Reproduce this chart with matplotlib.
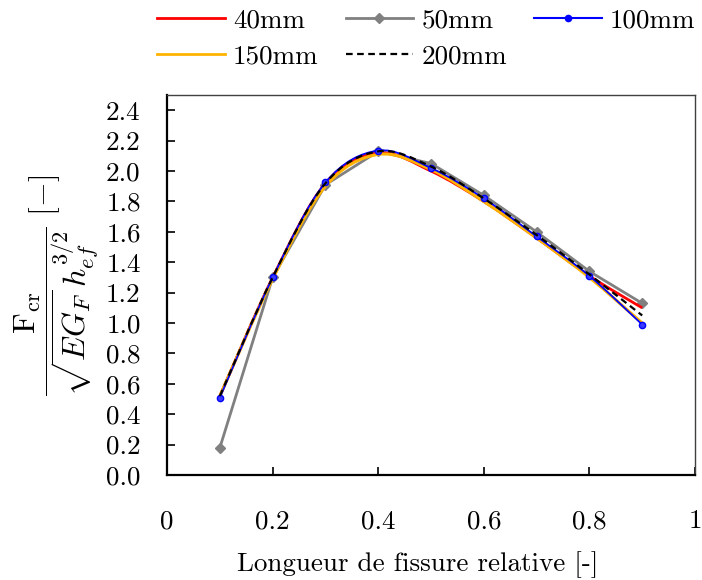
import matplotlib
matplotlib.use('Agg')
import matplotlib.pyplot as plt
import numpy as np
from matplotlib.path import Path
from matplotlib.patches import PathPatch
from matplotlib.lines import Line2D

plt.rcParams['font.family'] = 'serif'
plt.rcParams['font.serif'] = ['cmr10']
plt.rcParams['mathtext.fontset'] = 'cm'
plt.rcParams['axes.formatter.use_mathtext'] = True

crack_ratio = [0.1, 0.2, 0.3, 0.4, 0.5, 0.6, 0.7, 0.8, 0.9]
f_40mm = [0.52, 1.30, 1.92, 2.12, 2.00, 1.80, 1.56, 1.31, 1.10]
f_50mm = [0.18, 1.30, 1.91, 2.13, 2.05, 1.84, 1.60, 1.34, 1.13]
f_100mm = [0.51, 1.30, 1.925, 2.135, 2.02, 1.82, 1.57, 1.31, 0.99]
f_150mm = [0.52, 1.29, 1.90, 2.11, 2.01, 1.80, 1.56, 1.30, 1.00]
f_200mm = [0.52, 1.30, 1.92, 2.13, 2.03, 1.82, 1.58, 1.32, 1.05]

x_ticks = [0, 0.2, 0.4, 0.6, 0.8, 1]
x_ticklabels = ['0', '0.2', '0.4', '0.6', '0.8', '1']
y_ticks = np.arange(0, 2.41, 0.2)

FS = 19.5


def smooth_path(x, y):
    # spreadsheet-style smoothed line: cubic bezier segments through the points
    pts = np.column_stack([x, y])
    n = len(pts)
    verts = [pts[0]]
    codes = [Path.MOVETO]
    for i in range(n - 1):
        p0 = pts[max(i - 1, 0)]
        p1 = pts[i]
        p2 = pts[i + 1]
        p3 = pts[min(i + 2, n - 1)]
        c1 = p1 + (p2 - p0) / 6
        c2 = p2 - (p3 - p1) / 6
        verts += [c1, c2, p2]
        codes += [Path.CURVE4] * 3
    return Path(verts, codes)


def add_smooth(ax, x, y, **kw):
    patch = PathPatch(smooth_path(x, y), fill=False, transform=ax.transData, **kw)
    ax.add_patch(patch)


fig = plt.figure(figsize=(7.02, 5.8), dpi=100)
ax = fig.add_axes([0.238, 0.181, 0.752, 0.655])

ax.plot(crack_ratio, f_50mm, color='gray', lw=2, marker='D', markersize=5, zorder=2)
add_smooth(ax, crack_ratio, f_40mm, edgecolor='red', lw=2, zorder=3)
add_smooth(ax, crack_ratio, f_150mm, edgecolor='#ffb300', lw=2.2, zorder=3)
add_smooth(ax, crack_ratio, f_100mm, edgecolor='blue', lw=1.3, zorder=4)
ax.plot(crack_ratio, f_100mm, linestyle='none', marker='o', markersize=4.5,
        color='blue', markerfacecolor='#3a3aff', zorder=4)
add_smooth(ax, crack_ratio, f_200mm, edgecolor='black', lw=1.6,
           linestyle=(0, (3, 2)), zorder=5)

ax.set_xlim(0, 1)
ax.set_ylim(0, 2.5)
ax.set_xticks(x_ticks)
ax.set_xticklabels(x_ticklabels)
ax.set_yticks(y_ticks)
ax.set_yticklabels([f'{v:.1f}' for v in y_ticks])
ax.tick_params(axis='both', direction='in', length=6, width=1.2, labelsize=FS)
ax.tick_params(axis='x', pad=25)
ax.tick_params(axis='y', pad=19)

for side in ['left', 'bottom']:
    ax.spines[side].set_linewidth(1.6)
    ax.spines[side].set_color('black')
for side in ['top', 'right']:
    ax.spines[side].set_linewidth(1.0)
    ax.spines[side].set_color('0.25')

ax.set_xlabel('Longueur de fissure relative [-]', fontsize=FS)
ax.xaxis.set_label_coords(0.475, -0.2)
ax.set_ylabel(r'$\dfrac{\mathrm{F_{cr}}}{\sqrt{EG_F}\,h_{ef}^{3/2}}\ [-]$',
              fontsize=23, labelpad=4)

handles = {
    '40mm': Line2D([], [], color='red', lw=2),
    '50mm': Line2D([], [], color='gray', lw=2, marker='D', markersize=5),
    '100mm': Line2D([], [], color='blue', lw=1.5, marker='o', markersize=4.5),
    '150mm': Line2D([], [], color='#ffb300', lw=2),
    '200mm': Line2D([], [], color='black', lw=1.6, linestyle=(0, (3, 2))),
}
# legend fills column by column; order so rows read 40/50/100, 150/200
order = ['40mm', '150mm', '50mm', '200mm', '100mm']
fig.legend([handles[k] for k in order], order, loc='upper left',
           bbox_to_anchor=(0.189, 1.027), ncol=3, frameon=False, fontsize=FS,
           handlelength=2.5, handletextpad=0.3, columnspacing=1.0,
           labelspacing=0.45)

fig.savefig('out.png', dpi=100)
